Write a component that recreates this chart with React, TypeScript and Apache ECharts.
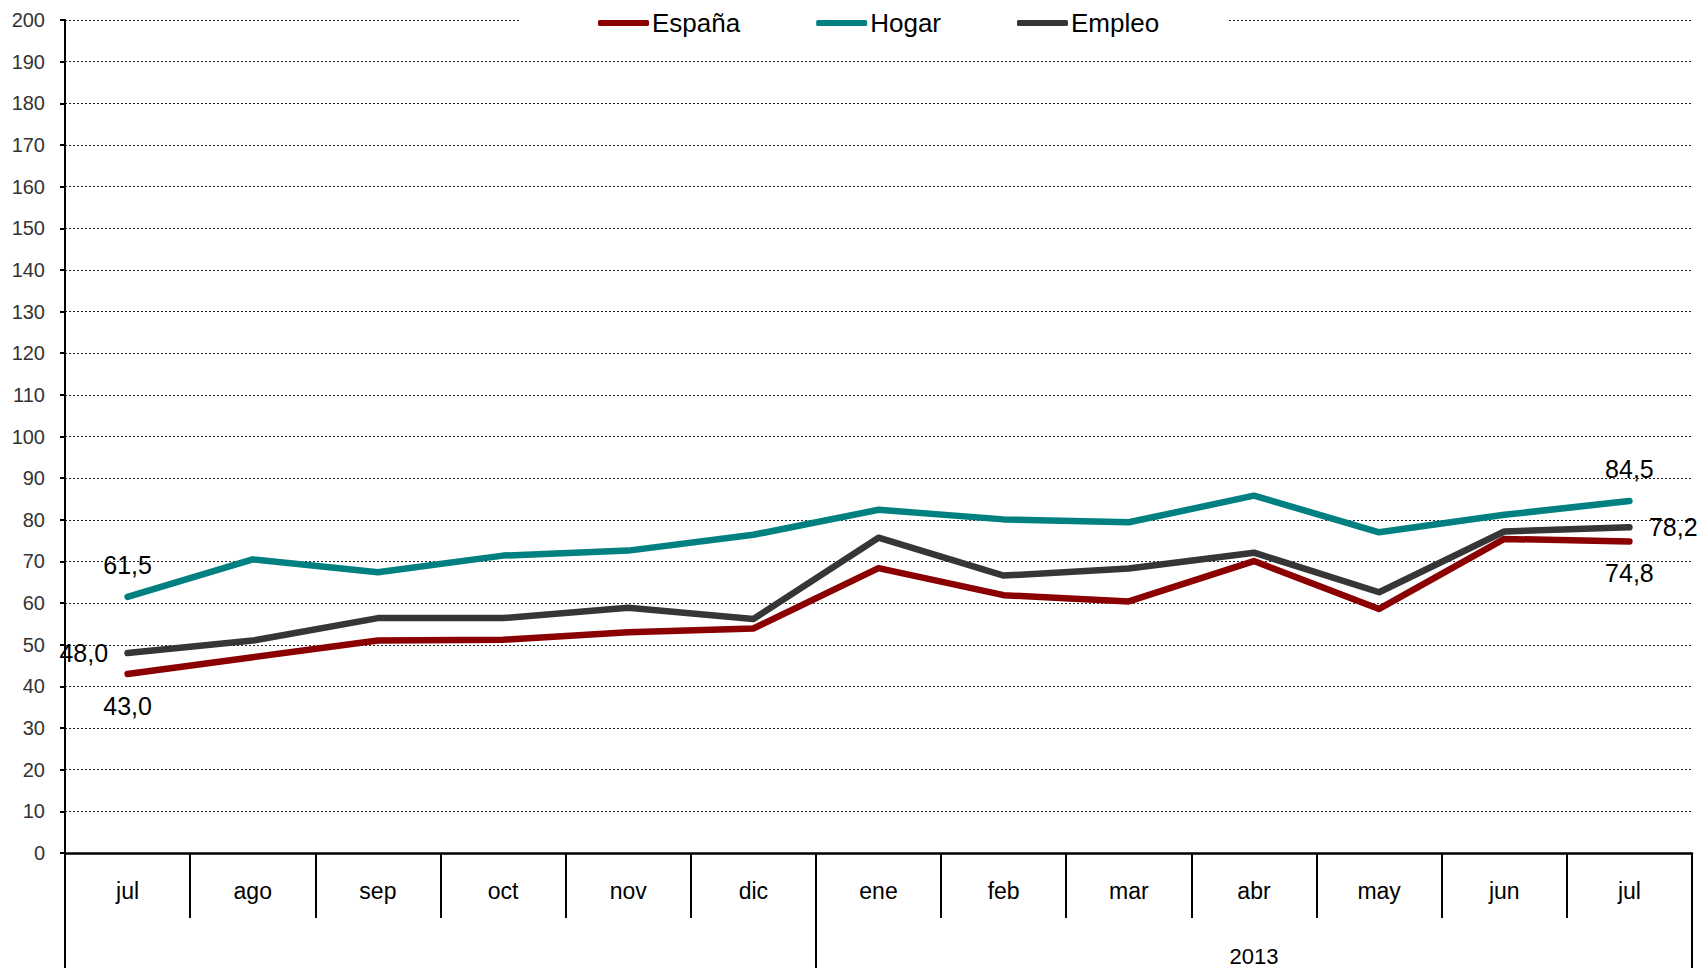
import React, { useEffect, useRef } from "react";
import * as echarts from "echarts";

const months = ["jul", "ago", "sep", "oct", "nov", "dic", "ene", "feb", "mar", "abr", "may", "jun", "jul"];
const yearLabel = "2013";
const yearStartIndex = 6;

const espana = [43.0, 47.0, 51.0, 51.2, 53.0, 53.9, 68.4, 61.9, 60.4, 70.1, 58.6, 75.4, 74.8];
const hogar = [61.5, 70.5, 67.4, 71.4, 72.6, 76.4, 82.4, 80.1, 79.4, 85.8, 77.0, 81.2, 84.5];
const empleo = [48.0, 51.0, 56.4, 56.4, 58.9, 56.2, 75.7, 66.6, 68.3, 72.1, 62.6, 77.2, 78.2];

const yMin = 0;
const yMax = 200;
const yStep = 10;

const FONT = "'Liberation Sans', Arial, sans-serif";

type LabelPos = "top" | "bottom" | "left" | "right";

function withEndLabels(values: number[], firstPos: LabelPos, lastPos: LabelPos) {
  return values.map((v, i) => {
    const isEnd = i === 0 || i === values.length - 1;
    return {
      value: v,
      label: isEnd
        ? {
            show: true,
            position: i === 0 ? firstPos : lastPos,
            distance: 19,
            fontSize: 25,
            color: "#000",
            fontFamily: FONT,
            formatter: (p: any) => Number(p.value).toFixed(1).replace(".", ","),
          }
        : { show: false },
    };
  });
}

export default function App() {
  const ref = useRef<HTMLDivElement>(null);
  useEffect(() => {
    if (!ref.current) return;
    const chart = echarts.init(ref.current, undefined, { renderer: "svg" });
    const groupLabelIndex = yearStartIndex + Math.floor((months.length - yearStartIndex) / 2);
    const lineSeries = (name: string, data: any[], color: string) => ({
      name,
      type: "line",
      data,
      symbol: "circle",
      symbolSize: 1,
      showSymbol: true,
      xAxisIndex: 0,
      yAxisIndex: 0,
      lineStyle: { color, width: 6.5, cap: "round", join: "round" },
      itemStyle: { color, borderWidth: 0 },
      label: { show: false },
      labelLayout: { hideOverlap: false },
      emphasis: { disabled: true },
    });
    chart.setOption({
      animation: false,
      backgroundColor: "#fff",
      textStyle: { fontFamily: FONT },
      grid: { left: 65, right: 11, top: 20, bottom: 115, containLabel: false, outerBoundsMode: "none" },
      legend: {
        left: 521,
        top: 8,
        padding: [2, 70, 2, 77],
        backgroundColor: "#fff",
        itemGap: 76,
        itemWidth: 51,
        itemHeight: 6,
        icon: "roundRect",
        textStyle: { fontSize: 26, color: "#000", fontFamily: FONT, padding: [0, 0, 0, -2] },
        data: ["España", "Hogar", "Empleo"],
      },
      xAxis: [
        {
          type: "category",
          data: months,
          boundaryGap: true,
          position: "bottom",
          axisLine: { show: true, onZero: false, lineStyle: { color: "#000", width: 2.5 } },
          axisTick: { show: true, interval: 0, length: 65, lineStyle: { color: "#000", width: 2 } },
          axisLabel: { interval: 0, margin: 26, fontSize: 23, color: "#000", fontFamily: FONT },
          splitLine: { show: false },
        },
        {
          type: "category",
          data: months,
          boundaryGap: true,
          position: "bottom",
          axisLine: { show: false },
          axisTick: {
            show: true,
            interval: (i: number) => i === 0 || i === yearStartIndex,
            length: 115,
            lineStyle: { color: "#000", width: 2 },
          },
          axisLabel: {
            interval: 0,
            margin: 92,
            fontSize: 22,
            color: "#000",
            fontFamily: FONT,
            formatter: (_v: string, i: number) => (i === groupLabelIndex ? yearLabel : ""),
          },
          splitLine: { show: false },
        },
      ],
      yAxis: {
        type: "value",
        min: yMin,
        max: yMax,
        interval: yStep,
        axisLine: { show: true, lineStyle: { color: "#000", width: 2 } },
        axisTick: { show: true, length: 5, lineStyle: { color: "#000", width: 2 } },
        axisLabel: { margin: 20, fontSize: 20, color: "#333", fontFamily: FONT },
        splitLine: { show: true, lineStyle: { color: "#222", width: 1, type: [2, 2] } },
      },
      series: [
        lineSeries("España", withEndLabels(espana, "bottom", "bottom"), "#8B0000"),
        lineSeries("Hogar", withEndLabels(hogar, "top", "top"), "#008080"),
        lineSeries("Empleo", withEndLabels(empleo, "left", "right"), "#363636"),
      ],
    });
    return () => chart.dispose();
  }, []);
  return <div ref={ref} style={{ position: "fixed", left: 0, top: 0, width: 1703, height: 968 }} />;
}
